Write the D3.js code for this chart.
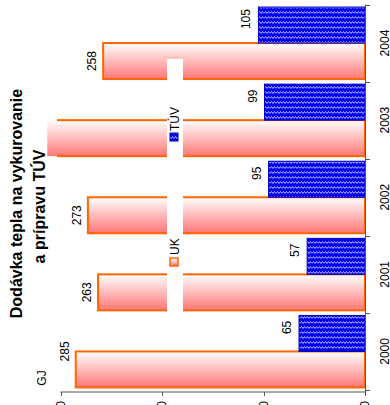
<!DOCTYPE html>
<html><head><meta charset="utf-8">
<script src="https://cdn.jsdelivr.net/npm/d3@7"></script>
<style>body{margin:0;background:#fff}svg{display:block}text{font-family:"Liberation Sans",Arial,sans-serif}</style>
</head><body><svg id="c" width="390" height="405"></svg>
<script>
const years = ["2000","2001","2002","2003","2004"];
const ukValues = [285,263,273,313,258];
const tuvValues = [65,57,95,99,105];
const seriesNames = ["UK","TÚV"];
const valueTicks = [0,100,200,300];
const titleLines = ["Dodávka tepla na vykurovanie","a prípravu TÚV"];
const unitLabel = "GJ";

const rows = years.map((yr,i)=>({year:yr, UK:ukValues[i], "TÚV":tuvValues[i]}));
const svg = d3.select("#c");
svg.append("rect").attr("width",390).attr("height",405).attr("fill","#fff");

const x = d3.scaleLinear().domain([0,300]).range([365,60.5]);
const y = d3.scaleBand().domain(years).range([390,4.5]).paddingInner(0.066).paddingOuter(0.033);
const sub = d3.scaleBand().domain(["TÚV","UK"]).range([0,y.bandwidth()]);

const defs = svg.append("defs");
const g = defs.append("linearGradient").attr("id","ukg").attr("x1",0).attr("y1",0).attr("x2",0).attr("y2",1);
g.append("stop").attr("offset","0%").attr("stop-color","#ffffff");
g.append("stop").attr("offset","100%").attr("stop-color","#ff7676");
const p = defs.append("pattern").attr("id","wave").attr("patternUnits","userSpaceOnUse").attr("width",6).attr("height",5);
p.append("rect").attr("width",6).attr("height",5).attr("fill","#0000f0");
p.append("path").attr("d","M0,3.5 L1.5,1.5 L3,3.5 L4.5,1.5 L6,3.5").attr("fill","none").attr("stroke","#b8b8ff").attr("stroke-width",1);
defs.append("clipPath").attr("id","plotclip").append("rect").attr("x",57).attr("y",0).attr("width",340).attr("height",405);

// UK bars
const uk = svg.append("g");
uk.selectAll("rect.f").data(rows).join("rect").attr("class","f")
  .attr("x",d=>x(d.UK)).attr("y",d=>y(d.year)+sub("UK"))
  .attr("width",d=>x(0)-x(d.UK)).attr("height",sub.bandwidth())
  .attr("fill","url(#ukg)");
uk.append("g").attr("clip-path","url(#plotclip)").selectAll("rect").data(rows).join("rect")
  .attr("x",d=>x(d.UK)).attr("y",d=>y(d.year)+sub("UK"))
  .attr("width",d=>x(0)-x(d.UK)).attr("height",sub.bandwidth())
  .attr("fill","none").attr("stroke","#ff6600").attr("stroke-width",2);

// TUV bars
svg.append("g").selectAll("rect").data(rows).join("rect")
  .attr("x",d=>x(d["TÚV"])).attr("y",d=>y(d.year)+sub("TÚV"))
  .attr("width",d=>x(0)-x(d["TÚV"])).attr("height",sub.bandwidth())
  .attr("fill","url(#wave)").attr("stroke","#0000c0").attr("stroke-width",1);

// value labels
const lab = svg.append("g").attr("clip-path","url(#plotclip)").attr("font-size",12).attr("fill","#000");
lab.selectAll("text.uk").data(rows).join("text").attr("class","uk")
  .attr("text-anchor","middle")
  .attr("transform",d=>`translate(${x(d.UK)-7},${y(d.year)+sub("UK")+sub.bandwidth()/2-(d.year==="2000"?18:0)}) rotate(-90)`)
  .text(d=>d.UK);
lab.selectAll("text.tv").data(rows).join("text").attr("class","tv")
  .attr("text-anchor","middle")
  .attr("transform",d=>`translate(${x(d["TÚV"])-8},${y(d.year)+sub("TÚV")+sub.bandwidth()/2-6}) rotate(-90)`)
  .text(d=>d["TÚV"]);

// axes
const ax = svg.append("g").attr("stroke","#555").attr("stroke-width",1);
ax.append("line").attr("x1",x(300)).attr("x2",x(0)).attr("y1",392).attr("y2",392);
ax.append("line").attr("x1",365.5).attr("x2",365.5).attr("y1",4.5).attr("y2",392);
ax.selectAll("line.vt").data(valueTicks).join("line").attr("class","vt")
  .attr("x1",d=>Math.round(x(d))+0.5).attr("x2",d=>Math.round(x(d))+0.5).attr("y1",392).attr("y2",396);
const bounds = y.range ? [y.step()*0, ...years.map(yr=>y(yr)-y.step()*y.paddingInner()/2)] : [];
ax.selectAll("line.ct").data(years.map(yr=>y(yr)-y.step()*y.paddingInner()/2).concat([390])).join("line").attr("class","ct")
  .attr("x1",365).attr("x2",370).attr("y1",d=>Math.round(d)+0.5).attr("y2",d=>Math.round(d)+0.5);

svg.append("g").attr("font-size",12).selectAll("text").data(valueTicks).join("text")
  .attr("text-anchor","end")
  .attr("transform",d=>`translate(${x(d)+4.3},401) rotate(-90)`).text(d=>d);
svg.append("g").attr("font-size",12).selectAll("text").data(years).join("text")
  .attr("text-anchor","middle")
  .attr("transform",d=>`translate(389,${y(d)+y.bandwidth()/2}) rotate(-90)`).text(d=>d);

// unit
svg.append("text").attr("font-size",12).attr("text-anchor","middle")
  .attr("transform","translate(45.5,378) rotate(-90)").text(unitLabel);

// title
svg.append("g").attr("font-size",16).attr("font-weight","bold").selectAll("text").data(titleLines).join("text")
  .attr("text-anchor","middle")
  .attr("transform",(d,i)=>`translate(${i?45:22},${i?206.5:203.5}) rotate(-90)`).text(d=>d);

// legend
const leg = svg.append("g");
leg.append("rect").attr("x",167).attr("y",59).attr("width",16).attr("height",253).attr("fill","#fff");
const legPos = [{name:seriesNames[0], my:258, ty:255, fill:"url(#ukg)", stroke:"#ff6600", sw:1.5},
                {name:seriesNames[1], my:133, ty:131, fill:"url(#wave)", stroke:"#0000c0", sw:1}];
leg.selectAll("rect.m").data(legPos).join("rect").attr("class","m")
  .attr("x",170).attr("y",d=>d.my).attr("width",8).attr("height",8)
  .attr("fill",d=>d.fill).attr("stroke",d=>d.stroke).attr("stroke-width",d=>d.sw);
leg.selectAll("text").data(legPos).join("text").attr("font-size",12)
  .attr("transform",d=>`translate(178.5,${d.ty}) rotate(-90)`).text(d=>d.name);
</script></body></html>
